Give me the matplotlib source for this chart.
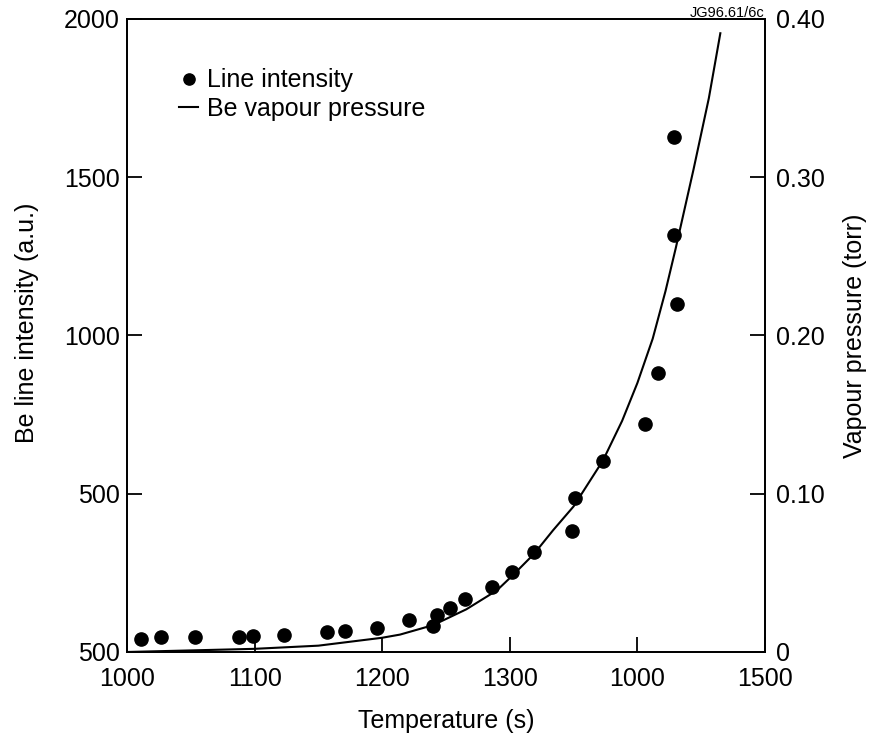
import matplotlib
matplotlib.use("Agg")
import matplotlib.pyplot as plt

plt.rcParams['font.family'] = ['Liberation Sans', 'DejaVu Sans']

# Be line intensity points (temperature, a.u.)
temp_pts = [1011, 1027, 1053, 1088, 1099, 1123, 1157, 1171, 1196, 1221, 1240, 1243,
            1253, 1265, 1286, 1302, 1319, 1349, 1351, 1373, 1406, 1416, 1431, 1429, 1429]
intensity = [40, 48, 48, 48, 52, 54, 63, 67, 76, 101, 83, 117,
             138, 168, 206, 253, 317, 382, 487, 603, 719, 881, 1100, 1318, 1626]

# Be vapour pressure curve (temperature, torr)
temp_curve = [1000, 1050, 1100, 1150, 1200, 1214, 1240, 1266, 1290, 1303, 1319, 1334,
              1350, 1373, 1388, 1400, 1412, 1422, 1430, 1444, 1456, 1465]
pressure = [0.000, 0.001, 0.002, 0.004, 0.009, 0.011, 0.017, 0.027, 0.039, 0.049, 0.062, 0.077,
            0.092, 0.121, 0.146, 0.170, 0.198, 0.228, 0.255, 0.305, 0.350, 0.391]

# tick labels as printed on the original figure
x_ticks = [1000, 1100, 1200, 1300, 1400, 1500]
x_labels = ['1000', '1100', '1200', '1300', '1000', '1500']
y_ticks = [0, 500, 1000, 1500, 2000]
y_labels = ['500', '500', '1000', '1500', '2000']
p_ticks = [0, 0.1, 0.2, 0.3, 0.4]
p_labels = ['0', '0.10', '0.20', '0.30', '0.40']

fig = plt.figure(figsize=(8.72, 7.42), dpi=100)
ax = fig.add_axes([0.1456, 0.1213, 0.7317, 0.8531])
ax2 = ax.twinx()

pts, = ax.plot(temp_pts, intensity, 'o', color='black', markersize=9.5, label='Line intensity')
curve, = ax2.plot(temp_curve, pressure, '-', color='black', linewidth=1.5, label='Be vapour pressure')

ax.set_xlim(1000, 1500)
ax.set_ylim(0, 2000)
ax2.set_ylim(0, 0.4)

ax.set_xticks(x_ticks)
ax.set_xticklabels(x_labels)
ax.set_yticks(y_ticks)
ax.set_yticklabels(y_labels)
ax2.set_yticks(p_ticks)
ax2.set_yticklabels(p_labels)

fs = 18
ax.tick_params(axis='both', direction='in', length=11, width=1.3, labelsize=fs)
ax.tick_params(axis='x', pad=11)
ax.tick_params(axis='y', pad=5)
ax2.tick_params(axis='y', direction='in', length=11, width=1.3, labelsize=fs, pad=8)

for a in (ax, ax2):
    for s in a.spines.values():
        s.set_linewidth(1.3)

ax.set_xlabel('Temperature (s)', fontsize=fs, labelpad=13)
ax.set_ylabel('Be line intensity (a.u.)', fontsize=fs)
ax.yaxis.set_label_coords(-0.138, 0.52)
ax2.set_ylabel('Vapour pressure (torr)', fontsize=fs)
ax2.yaxis.set_label_coords(1.122, 0.5)

ax2.text(1.0, 0.999, 'JG96.61/6c', transform=ax2.transAxes, ha='right', va='bottom', fontsize=10.5)

ax2.legend(handles=[pts, curve], loc='upper left', bbox_to_anchor=(0.082, 0.922),
           frameon=False, fontsize=18, handlelength=0.75, handletextpad=0.35,
           labelspacing=0.18, borderpad=0, borderaxespad=0, markerscale=0.85)

fig.savefig('out.png', dpi=100)
